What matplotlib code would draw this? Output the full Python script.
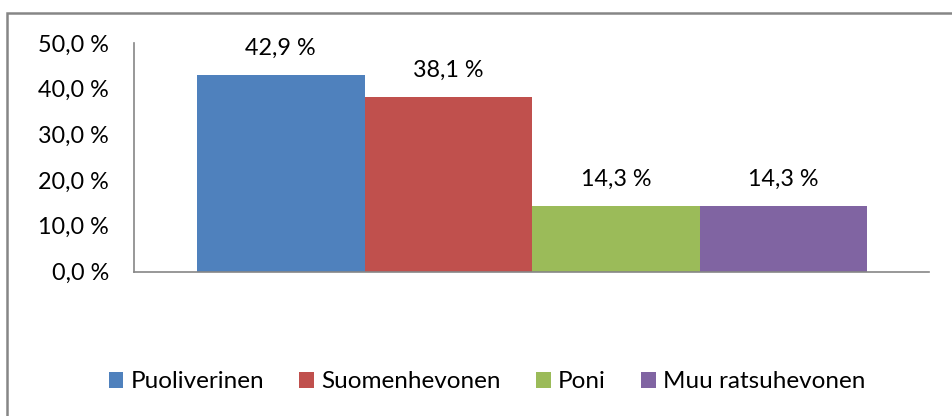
import matplotlib
matplotlib.use("Agg")
import matplotlib.pyplot as plt
from matplotlib.patches import Rectangle, Patch

series_names = ["Puoliverinen", "Suomenhevonen", "Poni", "Muu ratsuhevonen"]
values = [42.9, 38.1, 14.3, 14.3]
colors = ["#4F81BD", "#C0504D", "#9BBB59", "#8064A2"]
yticks = [0, 10, 20, 30, 40, 50]

plt.rcParams['font.family'] = ['Lato', 'DejaVu Sans']
FS = 16.8

fig = plt.figure(figsize=(9.52, 4.16), dpi=100)
ax = fig.add_axes([134/952, 1-271.5/416, (929-134)/952, (271.5-43)/416])

bar_w = 670/4/795
start = 63/795
for i, (name, v, c) in enumerate(zip(series_names, values, colors)):
    x = start + bar_w*(i+0.5)
    ax.bar(x, v, width=bar_w, color=c, label=name, linewidth=0)
    ax.annotate(f"{v:.1f} %".replace(".", ","), (x, v), xytext=(0, 19.5),
                textcoords="offset points", ha="center", va="center",
                fontsize=FS, color="#000000")

ax.set_xlim(0, 1)
ax.set_ylim(0, 50)
ax.set_yticks(yticks)
ax.set_yticklabels([f"{t:.1f} %".replace(".", ",") for t in yticks], fontsize=FS)
ax.tick_params(axis="y", length=0, pad=18)
ax.set_xticks([])
for s in ["top", "right"]:
    ax.spines[s].set_visible(False)
for s in ["left", "bottom"]:
    ax.spines[s].set_color("#868686")
    ax.spines[s].set_linewidth(1.2)

# outer chart border
fig.patches.append(Rectangle((7/952, -0.05), 1.2, 1-13/416+0.05, transform=fig.transFigure,
                             fill=False, edgecolor="#868686", linewidth=1.8))

handles = [Patch(facecolor=c, edgecolor="none") for c in colors]
leg = fig.legend(handles, series_names, loc="center", bbox_to_anchor=(487/952, 1-382/416),
                 ncol=4, frameon=False, fontsize=17.5, handlelength=0.6, handleheight=0.6,
                 handletextpad=0.3, columnspacing=1.45, borderaxespad=0)

fig.savefig("out.png", dpi=100)
